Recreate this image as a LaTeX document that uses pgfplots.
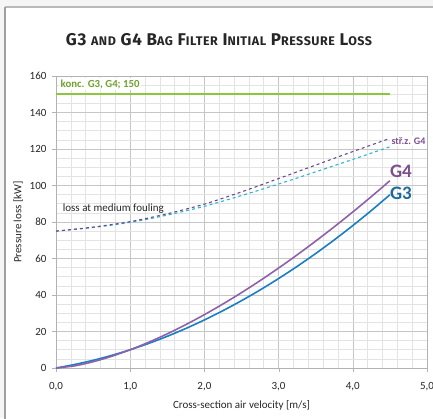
\documentclass[border=0pt]{standalone}
\usepackage{pgfplots}
\pgfplotsset{compat=1.18}
\usepackage{fontspec}
\setmainfont{Carlito}
\newfontfamily\titlefont[LetterSpace=4]{Fira Sans}
\definecolor{kgreen}{HTML}{8CC63F}
\definecolor{kgreentxt}{HTML}{6FA22E}
\definecolor{gfour}{HTML}{8E62AA}
\definecolor{gfourtxt}{HTML}{7A4F8E}
\definecolor{gthree}{HTML}{1A7EC2}
\definecolor{gthreetxt}{HTML}{1C6A9C}
\definecolor{dpurple}{HTML}{6A4C8C}
\definecolor{dcyan}{HTML}{2BB5D3}
\newcommand{\sm}[1]{{\fontsize{12.5}{14}\selectfont #1}}
\begin{document}
\begin{tikzpicture}[x=1pt,y=1pt]
\fill[gray!8] (0,0) rectangle (5,418);
\fill[gray!8] (0,411) rectangle (433,418);
\draw[gray!55,line width=1.6pt] (5,411) -- (440,411);
\draw[gray!75,line width=1.2pt] (5,-5) -- (5,411);
\node[font=\titlefont\bfseries\fontsize{17}{19}\selectfont, text=black!85] at (219,378)
  {G3 \sm{AND} G4 B\sm{AG} F\sm{ILTER} I\sm{NITIAL} P\sm{RESSURE} L\sm{OSS}};
\begin{axis}[
  at={(56pt,50pt)}, anchor=south west,
  width=371pt, height=292pt, scale only axis,
  xmin=0, xmax=5, ymin=0, ymax=160,
  xtick={0,1,2,3,4,5}, ytick={0,20,...,160},
  minor x tick num=4, minor y tick num=3,
  grid=both,
  major grid style={gray!45, line width=0.6pt},
  minor grid style={gray!22, line width=0.6pt},
  axis line style={gray!60},
  tick style={gray!60},
  tick align=outside, major tick length=4pt, minor tick length=0pt,
  tick pos=left,
  /pgf/number format/assume math mode=true,
  ticklabel style={font=\fontsize{11}{13}\selectfont, text=black!85},
  yticklabel style={xshift=-2pt},
  xticklabel style={yshift=-7pt, /pgf/number format/.cd, use comma, fixed, fixed zerofill, precision=1},
  xlabel={Cross-section air velocity [m/s]},
  ylabel={Pressure loss [kW]},
  label style={font=\fontsize{11}{13}\selectfont, text=black!85},
  xlabel style={yshift=-3pt},
  ylabel style={yshift=0pt},
  clip=false,
]
\addplot[kgreen, line width=1.6pt] coordinates {(0,150) (4.5,150)};
\addplot[dcyan, dashed, line width=1.1pt, smooth] coordinates {
(0,75) (0.5,77.0) (1,79.8) (1.5,83.8) (2,88.6) (2.5,94.5) (3,100.8) (3.5,107.5) (4,114.3) (4.5,121.2)};
\addplot[dpurple, dashed, line width=1.1pt, smooth] coordinates {
(0,75) (0.5,77.2) (1,80.2) (1.5,84.5) (2,89.8) (2.5,96.5) (3,103.8) (3.5,111.2) (4,118.6) (4.5,125.8)};
\addplot[gthree, line width=1.6pt, smooth] coordinates {
(0,0) (0.25,1.91) (0.5,4.21) (0.75,6.90) (1,10.0) (1.25,13.49) (1.5,17.38) (1.75,21.66) (2,26.34) (2.25,31.42) (2.5,36.89) (2.75,42.75) (3,49.02) (3.25,55.68) (3.5,62.74) (3.75,70.19) (4,78.04) (4.25,86.29) (4.5,94.93)};
\addplot[gfour, line width=1.6pt, smooth] coordinates {
(0,0) (0.25,1.17) (0.5,3.42) (0.75,6.41) (1,10.0) (1.25,14.13) (1.5,18.73) (1.75,23.78) (2,29.24) (2.25,35.09) (2.5,41.30) (2.75,47.87) (3,54.77) (3.25,62.00) (3.5,69.54) (3.75,77.38) (4,85.51) (4.25,93.92) (4.5,102.61)};
\node[anchor=west, fill=white, inner sep=1.5pt, text=kgreentxt, font=\bfseries\fontsize{10.8}{12}\selectfont] at (axis cs:0.04,155.5) {konc. G3, G4; 150};
\node[anchor=west, fill=white, inner sep=1.5pt, text=gfourtxt, font=\bfseries\fontsize{10}{12}\selectfont] at (axis cs:4.5,124.5) {stř.z. G4};
\node[anchor=west, text=gfourtxt, font=\bfseries\fontsize{19}{22}\selectfont, inner sep=0pt] at (axis cs:4.5,107.5) {G4};
\node[anchor=west, text=gthreetxt, font=\bfseries\fontsize{19}{22}\selectfont, inner sep=0pt] at (axis cs:4.5,95.5) {G3};
\node[anchor=west, text=black!85, font=\fontsize{11}{13}\selectfont, inner sep=0pt] at (axis cs:0.09,87.2) {loss at medium fouling};
\end{axis}
\pgfresetboundingbox
\path[use as bounding box] (0,0) rectangle (433,418);
\end{tikzpicture}
\end{document}
